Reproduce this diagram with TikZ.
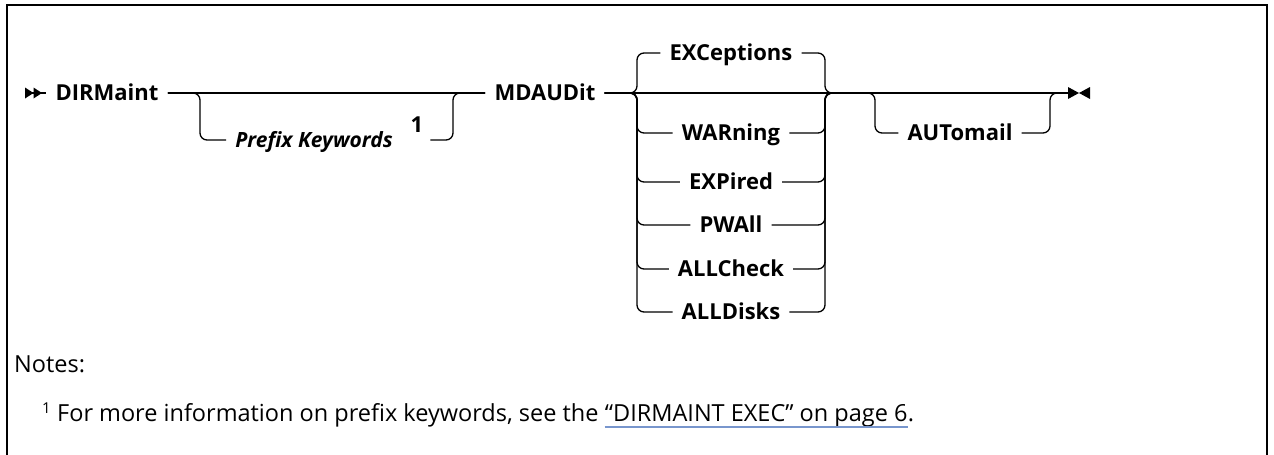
\documentclass[tikz,border=0pt]{standalone}
\usepackage{fontspec}
\setmainfont{Open Sans}
\definecolor{linkblue}{RGB}{120,150,205}
\tikzset{
  rail/.style={line width=1.3pt, rounded corners=7pt},
  kw/.style={font=\bfseries\fontsize{22}{26}\selectfont, inner xsep=9pt,
    inner ysep=0pt, text height=15pt, text depth=0pt},
  var/.style={kw, font=\bfseries\itshape\fontsize{21}{25}\selectfont},
  note/.style={font=\fontsize{23.5}{27}\selectfont, inner sep=0pt, anchor=base west},
}
\begin{document}
\begin{tikzpicture}[x=1pt, y=-1pt]
\def\ym{93}
\def\yx{53}
\def\xl{637}
\def\xr{825}
\useasboundingbox (0,0) rectangle (1274,455);
% frame
\draw[line width=2pt] (7,455) -- (7,5) -- (1267,5) -- (1267,455);
\coordinate (begin) at (25,\ym);
\coordinate (endm)  at (1068,\ym);
\coordinate (pl)    at (200,\ym);
\coordinate (pr)    at (453,\ym);
\coordinate (gl)    at (\xl,\ym);
\coordinate (gr)    at (\xr,\ym);
\coordinate (al)    at (875,\ym);
\coordinate (ar)    at (1050,\ym);
% keywords
\node[kw]  (dirm)    at (107,\ym) {DIRMaint};
\node[var] (prefix)  at (314,140) {Prefix Keywords};
\node[kw, inner xsep=7pt] (fn1) at (417,125) {1};
\node[kw]  (mdaudit) at (545,\ym) {MDAUDit};
\node[kw]  (exc)     at (731,\yx) {EXCeptions};
\node[kw]  (war)     at (731,133) {WARning};
\node[kw]  (exp)     at (731,182) {EXPired};
\node[kw]  (pwa)     at (731,225) {PWAll};
\node[kw]  (allc)    at (731,269) {ALLCheck};
\node[kw]  (alld)    at (731,312) {ALLDisks};
\node[kw]  (auto)    at (960,133) {AUTomail};
% start and end marks
\fill (begin) ++(0,-5.5) -- ++(8.5,5.5) -- ++(-8.5,5.5) -- cycle;
\fill (begin) ++(8.5,-5.5) -- ++(8.5,5.5) -- ++(-8.5,5.5) -- cycle;
\fill (endm) ++(0,-6) -- ++(11,6) -- ++(-11,6) -- cycle;
\fill (endm) ++(22,-6) -- ++(-11,6) -- ++(11,6) -- cycle;
% main line
\draw[rail] (begin) -- (dirm.west);
\draw[rail] (dirm.east) -- (mdaudit.west);
\draw[rail] (mdaudit.east) -- (endm);
% prefix keywords
\draw[rail] (dirm.east) -- (pl) |- (prefix.west);
\draw[rail] (fn1.east |- prefix.east) -| (pr) -- (mdaudit.west);
% choices
\foreach \n in {exc,war,exp,pwa,allc,alld}{
  \draw[rail] (mdaudit.east) -- (gl) |- (\n.west);
  \draw[rail] (\n.east) -| (gr) -- (endm);
}
% automail
\draw[rail] (gr) -- (al) |- (auto.west);
\draw[rail] (auto.east) -| (ar) -- (endm);
% notes
\node[note] (notes) at (14,372) {Notes:};
\node[note, font=\fontsize{15}{18}\selectfont] (fnmark) at (42,413) {1};
\node[note] (fntext) at (57,421) {For more information on prefix keywords, see the};
\node[note, xshift=6pt] (link) at (fntext.base east) {“DIRMAINT EXEC” on page 6};
\node[note] (dot) at (link.base east) {.};
\draw[linkblue, line width=1.3pt] (link.south west) -- (link.south east);
\end{tikzpicture}
\end{document}
